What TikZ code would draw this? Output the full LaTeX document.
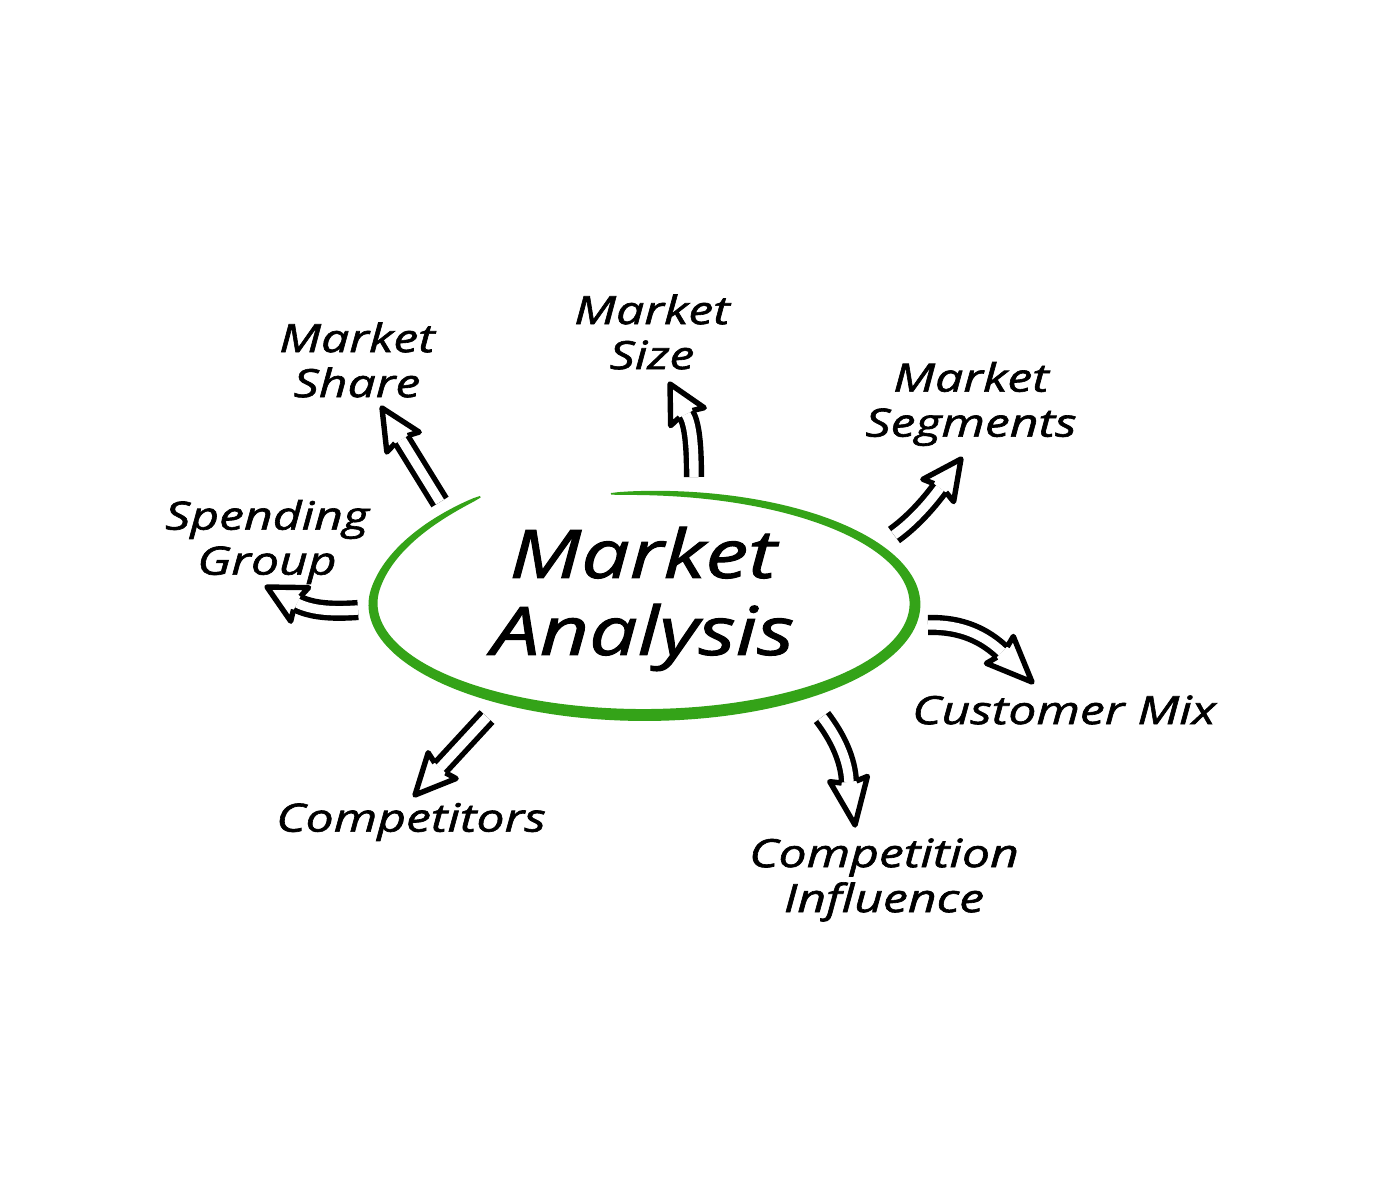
\documentclass[tikz,border=0pt]{standalone}
\usepackage{fontspec}
\newfontfamily\hand[FakeStretch=1.28, FakeBold=1.6]{Open Sans}
\usetikzlibrary{calc}
\definecolor{mygreen}{RGB}{52,163,24}
\tikzset{
  lab/.style={font=\hand\itshape\fontsize{39}{45}\selectfont, align=center, inner sep=0pt},
  ttl/.style={font=\hand\itshape\fontsize{67}{77}\selectfont, align=center, inner sep=0pt},
  shaft/.style={draw=black, line width=5.4pt, double=white, double distance=9.4pt, line cap=butt},
  headline/.style={draw=black, fill=white, line width=5.4pt, line join=round},
}
\newcommand{\ahead}[2]{%
  \coordinate (#1bk) at ($(#1)!-3pt!(#2)$);
  \filldraw[headline] ($(#1)!7.4pt!90:(#2)$) -- ($(#1bk)!19pt!90:(#2)$) -- (#2)
     -- ($(#1bk)!19pt!-90:(#2)$) -- ($(#1)!7.4pt!-90:(#2)$);
}
\begin{document}
\begin{tikzpicture}[x=1pt,y=-1pt,
  declare function={wd(\a)=1.5+10.5*sqrt(abs(sin((\a-122)*0.5373)));
                    mm(\a)=max(0,1-(\a-122)/50);
                    sc(\a)=1+0.14*mm(\a)*mm(\a);}]
\useasboundingbox (0,0) rectangle (1376,1192);
\fill[white] (0,0) rectangle (1376,1192);

% green hand-drawn ellipse
\fill[mygreen] plot[domain=122:457, samples=200, variable=\t]
   ({644+sc(\t)*(271+wd(\t)/2)*cos(\t)},{604-sc(\t)*(111+wd(\t)/2)*sin(\t)})
 -- plot[domain=457:122, samples=200, variable=\t]
   ({644+sc(\t)*(271-wd(\t)/2)*cos(\t)},{604-sc(\t)*(111-wd(\t)/2)*sin(\t)})
 -- cycle;

% texts
\node[ttl] (ma) at (643,599) {Market\\Analysis};
\node[lab] (share) at (357,360) {Market\\Share};
\node[lab] (size) at (652,332) {Market\\Size};
\node[lab] (segm) at (971,404) {Market\\Segments};
\node[lab] (spend) at (267,542) {Spending\\Group};
\node[lab] (cmix) at (1064,710) {Customer Mix};
\node[lab] (comp) at (411,822) {Competitors};
\node[lab] (cinf) at (884,880) {Competition\\Influence};

% arrows
\coordinate (a1) at (440,502); \coordinate (t1) at (382,408);
\coordinate (b1) at ($(t1)!37pt!(a1)$);
\draw[shaft] (a1) -- (b1); \ahead{b1}{t1}

\coordinate (a2) at (694,477); \coordinate (b2) at (686,414); \coordinate (t2) at (670,384);
\draw[shaft] (a2) .. controls (694,445) and (692,424) .. (b2); \ahead{b2}{t2}

\coordinate (a3) at (894,535); \coordinate (b3) at (940,488); \coordinate (t3) at (961,459);
\draw[shaft] (a3) .. controls (915,520) and (932,499) .. (b3); \ahead{b3}{t3}

\coordinate (a4) at (928,625); \coordinate (b4) at (1002,652); \coordinate (t4) at (1032,682);
\draw[shaft] (a4) .. controls (962,624) and (985,636) .. (b4); \ahead{b4}{t4}

\coordinate (a5) at (822,717); \coordinate (b5) at (849,782); \coordinate (t5) at (855,825);
\draw[shaft] (a5) .. controls (838,738) and (848,760) .. (b5); \ahead{b5}{t5}

\coordinate (a6) at (487,717); \coordinate (t6) at (415,795);
\coordinate (b6) at ($(t6)!37pt!(a6)$);
\draw[shaft] (a6) -- (b6); \ahead{b6}{t6}

\coordinate (a7) at (358,610); \coordinate (b7) at (297,603); \coordinate (t7) at (267,587);
\draw[shaft] (a7) .. controls (330,612) and (311,610) .. (b7); \ahead{b7}{t7}
\end{tikzpicture}
\end{document}
